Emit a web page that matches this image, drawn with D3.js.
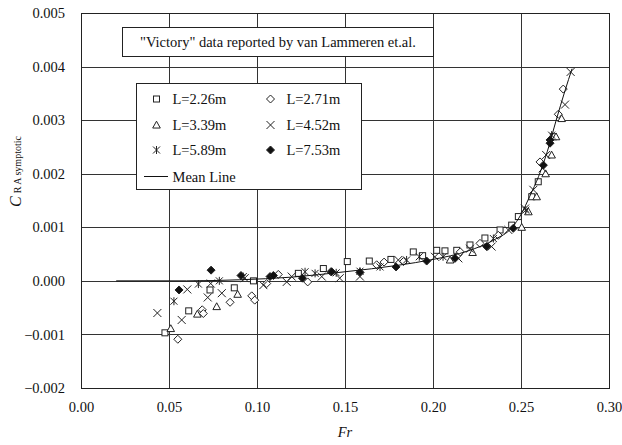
<!DOCTYPE html>
<html>
<head>
<meta charset="utf-8">
<script src="https://cdn.jsdelivr.net/npm/d3@7"></script>
</head>
<body style="margin:0;background:#fff">
<svg id="chart" width="622" height="445" style="display:block"></svg>
<script>
// Froude number ticks and residual-resistance ticks
const xTicks = [0.00, 0.05, 0.10, 0.15, 0.20, 0.25, 0.30];
const yTicks = [-0.002, -0.001, 0.000, 0.001, 0.002, 0.003, 0.004, 0.005];

// Model series: [Fr, C_R asymptotic]
const L226 = [
  [0.0477, -0.00097], [0.0612, -0.00056], [0.0733, -0.00017], [0.0871, -0.00013],
  [0.0980, 0.00000], [0.1235, 0.00014], [0.1377, 0.00023], [0.1513, 0.00036],
  [0.1638, 0.00037], [0.1761, 0.00040], [0.1888, 0.00054], [0.1941, 0.00047],
  [0.2021, 0.00057], [0.2068, 0.00056], [0.2135, 0.00057], [0.2210, 0.00067],
  [0.2295, 0.00080], [0.2381, 0.00095], [0.2447, 0.00104], [0.2485, 0.00120],
  [0.2561, 0.00157], [0.2598, 0.00185], [0.2684, 0.00269]
];
const L271 = [
  [0.0550, -0.00109], [0.0689, -0.00054], [0.0695, -0.00061], [0.0847, -0.00040],
  [0.0970, -0.00028], [0.0987, -0.00036], [0.1055, -0.00005], [0.1121, 0.00012],
  [0.1288, -0.00002], [0.1420, 0.00017], [0.1680, 0.00030], [0.1722, 0.00035],
  [0.1832, 0.00036], [0.2155, 0.00054], [0.2267, 0.00070], [0.2371, 0.00085],
  [0.2608, 0.00222], [0.2712, 0.00311], [0.2740, 0.00358]
];
const L339 = [
  [0.0510, -0.00089], [0.0661, -0.00062], [0.0771, -0.00048], [0.0890, -0.00025],
  [0.2097, 0.00039], [0.2225, 0.00053], [0.2504, 0.00100], [0.2542, 0.00129],
  [0.2589, 0.00157], [0.2640, 0.00200], [0.2674, 0.00235], [0.2699, 0.00269],
  [0.2731, 0.00303]
];
const L452 = [
  [0.0434, -0.00060], [0.0572, -0.00073], [0.0604, -0.00016], [0.0720, -0.00031],
  [0.0737, -0.00005], [0.0800, -0.00023], [0.0930, 0.00005], [0.1036, -0.00008],
  [0.1169, -0.00002], [0.1197, 0.00008], [0.1368, 0.00008], [0.1470, 0.00005],
  [0.1585, 0.00008], [0.1803, 0.00039], [0.2011, 0.00045], [0.2144, 0.00042],
  [0.2210, 0.00060], [0.2333, 0.00064], [0.2428, 0.00095], [0.2523, 0.00135],
  [0.2570, 0.00170], [0.2623, 0.00210], [0.2643, 0.00235], [0.2750, 0.00329],
  [0.2782, 0.00390]
];
const L589 = [
  [0.0528, -0.00038], [0.0667, -0.00006], [0.0786, 0.00000], [0.0922, 0.00008],
  [0.1273, 0.00017], [0.1330, 0.00014], [0.1450, 0.00015], [0.1585, 0.00018],
  [0.1699, 0.00026], [0.1850, 0.00039], [0.1922, 0.00045], [0.2057, 0.00045],
  [0.2343, 0.00079], [0.2527, 0.00132], [0.2674, 0.00272]
];
const L753 = [
  [0.0557, -0.00017], [0.0739, 0.00020], [0.0909, 0.00010], [0.1074, 0.00008],
  [0.1093, 0.00010], [0.1258, 0.00005], [0.1424, 0.00017], [0.1585, 0.00016],
  [0.1790, 0.00026], [0.1964, 0.00037], [0.2125, 0.00042], [0.2305, 0.00064],
  [0.2456, 0.00098], [0.2627, 0.00216], [0.2665, 0.00263], [0.2665, 0.00257]
];
// Mean line through all models
const meanLine = [
  [0.020, 0.00000], [0.060, 0.00000], [0.090, 0.00002], [0.120, 0.00007],
  [0.150, 0.00017], [0.180, 0.00029], [0.200, 0.00040], [0.220, 0.00056],
  [0.235, 0.00077], [0.245, 0.00100], [0.250, 0.00124], [0.255, 0.00158],
  [0.260, 0.00195], [0.265, 0.00242], [0.270, 0.00300], [0.275, 0.00355],
  [0.2790, 0.00396]
];

const seriesNames = ["L=2.26m", "L=2.71m", "L=3.39m", "L=4.52m", "L=5.89m", "L=7.53m"];
const seriesData = [L226, L271, L339, L452, L589, L753];
const seriesSymbols = ["square", "diamond", "triangle", "cross", "asterisk", "diamondFilled"];

const FONT = '"Liberation Serif"';
const svg = d3.select("#chart");
const plot = { left: 81, top: 13, right: 609, bottom: 388 };

const x = d3.scaleLinear().domain([0, 0.30]).range([plot.left, plot.right]);
const y = d3.scaleLinear().domain([-0.002, 0.005]).range([plot.bottom, plot.top]);

// Gridlines
const grid = svg.append("g").attr("stroke", "#333").attr("stroke-width", 1);
grid.selectAll("line.v").data(xTicks.slice(1, -1)).join("line")
  .attr("x1", d => Math.round(x(d)) + 0.5).attr("x2", d => Math.round(x(d)) + 0.5)
  .attr("y1", plot.top).attr("y2", plot.bottom);
grid.selectAll("line.h").data(yTicks.slice(1, -1)).join("line")
  .attr("y1", d => Math.round(y(d)) + 0.5).attr("y2", d => Math.round(y(d)) + 0.5)
  .attr("x1", plot.left).attr("x2", plot.right);

// Frame
svg.append("rect")
  .attr("x", plot.left + 0.5).attr("y", plot.top + 0.5)
  .attr("width", plot.right - plot.left).attr("height", plot.bottom - plot.top)
  .attr("fill", "none").attr("stroke", "#222").attr("stroke-width", 1);

// Text helper: serif face set inline on every label
function label(sel, size) {
  return sel.style("font-family", FONT).style("font-size", size + "px").attr("fill", "#111");
}

// Axes with tick labels only
const xAxis = d3.axisBottom(x).tickValues(xTicks).tickFormat(d3.format(".2f"))
  .tickSize(0).tickPadding(14);
svg.append("g").attr("transform", `translate(0,${plot.bottom})`).call(xAxis)
  .call(g => g.select(".domain").remove())
  .call(g => g.attr("font-family", null).attr("font-size", null))
  .selectAll("text").call(label, 14.5);

const yAxis = d3.axisLeft(y).tickValues(yTicks).tickFormat(d3.format(".3f"))
  .tickSize(0).tickPadding(16);
svg.append("g").attr("transform", `translate(${plot.left},0)`).call(yAxis)
  .call(g => g.select(".domain").remove())
  .call(g => g.attr("font-family", null).attr("font-size", null))
  .selectAll("text").call(label, 14.5);

// Axis titles
svg.append("text").attr("x", x(0.15)).attr("y", 437).attr("text-anchor", "middle")
  .call(label, 14.5).style("font-style", "italic").text("Fr");

const yl = svg.append("text").attr("transform", "translate(21,207) rotate(-90)")
  .call(label, 16);
yl.append("tspan").style("font-family", FONT).style("font-size", "16px").style("font-style", "italic").text("C");
yl.append("tspan").style("font-family", FONT).style("font-size", "10px").attr("dx", 3).text("R A symptotic");

// Symbol drawing
function drawSymbol(g, kind, s) {
  const h = s / 2;
  if (kind === "square") {
    g.append("rect").attr("x", -h).attr("y", -h).attr("width", s).attr("height", s)
      .attr("fill", "#fff").attr("stroke", "#222");
  } else if (kind === "diamond" || kind === "diamondFilled") {
    const r = h + 1;
    g.append("path").attr("d", `M0,${-r}L${r},0L0,${r}L${-r},0Z`)
      .attr("fill", kind === "diamondFilled" ? "#111" : "#fff").attr("stroke", "#222");
  } else if (kind === "triangle") {
    const r = h + 0.8;
    g.append("path").attr("d", `M0,${-r}L${r},${r * 0.8}L${-r},${r * 0.8}Z`)
      .attr("fill", "#fff").attr("stroke", "#222");
  } else if (kind === "cross") {
    const r = h + 1;
    g.append("path").attr("d", `M${-r},${-r}L${r},${r}M${-r},${r}L${r},${-r}`)
      .attr("stroke", "#222").attr("fill", "none");
  } else if (kind === "asterisk") {
    const r = h + 0.5;
    g.append("path").attr("d", `M${-r},${-r}L${r},${r}M${-r},${r}L${r},${-r}M0,${-r - 0.5}L0,${r + 0.5}`)
      .attr("stroke", "#222").attr("fill", "none");
  }
}

// Data points
const marks = svg.append("g");
seriesData.forEach((data, i) => {
  const gs = marks.append("g");
  data.forEach(d => {
    const g = gs.append("g").attr("transform", `translate(${x(d[0])},${y(d[1])})`);
    drawSymbol(g, seriesSymbols[i], 6);
  });
});

// Mean line
svg.append("path").datum(meanLine)
  .attr("d", d3.line().x(d => x(d[0])).y(d => y(d[1])).curve(d3.curveMonotoneX))
  .attr("fill", "none").attr("stroke", "#111").attr("stroke-width", 1);

// Source note box
const note = svg.append("g");
note.append("rect").attr("x", 122.5).attr("y", 27.5).attr("width", 311).attr("height", 29)
  .attr("fill", "#fff").attr("stroke", "#222");
note.append("text").attr("x", 278).attr("y", 47).attr("text-anchor", "middle")
  .call(label, 14.5).text("\"Victory\" data reported by van Lammeren et.al.");

// Legend
const leg = svg.append("g");
leg.append("rect").attr("x", 136.5).attr("y", 83.5).attr("width", 225).attr("height", 106)
  .attr("fill", "#fff").attr("stroke", "#222");
const rowsY = [99, 125, 150];
seriesNames.forEach((name, i) => {
  const col = i % 2, row = Math.floor(i / 2);
  const sx = col === 0 ? 156.5 : 270.5;
  const g = leg.append("g").attr("transform", `translate(${sx},${rowsY[row]})`);
  drawSymbol(g, seriesSymbols[i], 6);
  leg.append("text").attr("x", sx + 16).attr("y", rowsY[row] + 5).call(label, 14.5).text(name);
});
leg.append("line").attr("x1", 144).attr("x2", 168).attr("y1", 176.5).attr("y2", 176.5)
  .attr("stroke", "#111");
leg.append("text").attr("x", 172.5).attr("y", 181.5).call(label, 14.5).text("Mean Line");
</script>
</body>
</html>
